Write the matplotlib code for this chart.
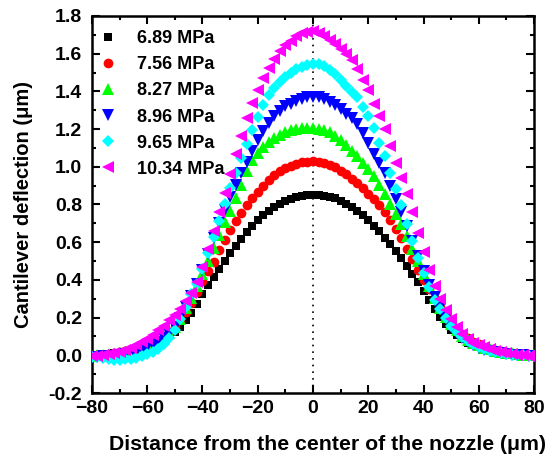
import numpy as np
import matplotlib
matplotlib.use("Agg")
import matplotlib.pyplot as plt
from matplotlib.ticker import MultipleLocator

plt.rcParams["font.family"] = ["Liberation Sans", "DejaVu Sans"]
plt.rcParams["font.weight"] = "bold"

# distance from nozzle center (um), one point every 2 um
distance = list(range(-80, 81, 2))

p689 = [0.000, 0.002, 0.004, 0.007, 0.010, 0.014, 0.019, 0.024, 0.030, 0.037,
        0.045, 0.055, 0.067, 0.082, 0.100, 0.122, 0.150, 0.185, 0.225, 0.272,
        0.323, 0.372, 0.418, 0.460, 0.502, 0.542, 0.580, 0.617, 0.652, 0.686,
        0.716, 0.744, 0.768, 0.788, 0.804, 0.818, 0.829, 0.838, 0.844, 0.848,
        0.850,
        0.849, 0.846, 0.840, 0.832, 0.820, 0.805, 0.787, 0.765, 0.742, 0.716,
        0.688, 0.657, 0.624, 0.590, 0.555, 0.517, 0.476, 0.432, 0.387, 0.340,
        0.291, 0.245, 0.203, 0.166, 0.134, 0.106, 0.084, 0.067, 0.054, 0.044,
        0.036, 0.029, 0.023, 0.018, 0.014, 0.010, 0.007, 0.004, 0.002, 0.000]

p756 = [0.000, 0.002, 0.004, 0.007, 0.011, 0.016, 0.021, 0.028, 0.036, 0.045,
        0.055, 0.067, 0.082, 0.100, 0.122, 0.150, 0.185, 0.228, 0.280, 0.335,
        0.392, 0.445, 0.497, 0.557, 0.612, 0.665, 0.712, 0.755, 0.797, 0.833,
        0.868, 0.900, 0.930, 0.955, 0.976, 0.993, 1.006, 1.016, 1.024, 1.028,
        1.030,
        1.028, 1.022, 1.012, 0.998, 0.980, 0.960, 0.937, 0.912, 0.886, 0.858,
        0.828, 0.797, 0.760, 0.716, 0.668, 0.620, 0.565, 0.510, 0.455, 0.400,
        0.350, 0.300, 0.255, 0.212, 0.174, 0.140, 0.112, 0.090, 0.072, 0.058,
        0.046, 0.036, 0.028, 0.021, 0.016, 0.011, 0.008, 0.005, 0.003, 0.001]

p827 = [-0.002, 0.000, 0.002, 0.005, 0.008, 0.012, 0.017, 0.023, 0.030, 0.038,
        0.048, 0.060, 0.075, 0.094, 0.118, 0.150, 0.195, 0.250, 0.305, 0.368,
        0.430, 0.500, 0.570, 0.640, 0.705, 0.765, 0.835, 0.905, 0.980, 1.035,
        1.075, 1.105, 1.132, 1.152, 1.170, 1.183, 1.194, 1.200, 1.204, 1.206,
        1.207,
        1.203, 1.197, 1.185, 1.165, 1.142, 1.115, 1.085, 1.055, 1.022, 0.988,
        0.950, 0.905, 0.855, 0.803, 0.750, 0.695, 0.632, 0.566, 0.498, 0.430,
        0.365, 0.305, 0.252, 0.205, 0.165, 0.132, 0.105, 0.083, 0.066, 0.052,
        0.041, 0.032, 0.025, 0.019, 0.014, 0.010, 0.007, 0.004, 0.002, 0.001]

p896 = [-0.008, -0.007, -0.006, -0.005, -0.003, 0.000, 0.005, 0.012, 0.020, 0.030,
        0.042, 0.055, 0.072, 0.090, 0.115, 0.150, 0.200, 0.255, 0.315, 0.380,
        0.455, 0.540, 0.620, 0.700, 0.770, 0.840, 0.905, 0.965, 1.025, 1.085,
        1.140, 1.190, 1.235, 1.270, 1.298, 1.320, 1.335, 1.350, 1.362, 1.369,
        1.372,
        1.368, 1.360, 1.345, 1.327, 1.305, 1.282, 1.258, 1.228, 1.180, 1.125,
        1.070, 1.020, 0.966, 0.898, 0.830, 0.760, 0.685, 0.605, 0.525, 0.445,
        0.375, 0.310, 0.252, 0.200, 0.155, 0.118, 0.090, 0.068, 0.052, 0.040,
        0.030, 0.022, 0.016, 0.011, 0.007, 0.004, 0.002, 0.000, -0.002, -0.003]

p965 = [-0.007, -0.011, -0.016, -0.020, -0.023, -0.024, -0.022, -0.018, -0.013, -0.005,
        0.006, 0.020, 0.036, 0.058, 0.090, 0.135, 0.190, 0.255, 0.325, 0.380,
        0.460, 0.545, 0.630, 0.715, 0.800, 0.885, 0.965, 1.045, 1.120, 1.195,
        1.265, 1.330, 1.382, 1.420, 1.452, 1.478, 1.500, 1.518, 1.530, 1.540,
        1.545,
        1.543, 1.535, 1.515, 1.490, 1.460, 1.428, 1.398, 1.368, 1.315, 1.268,
        1.205, 1.128, 1.055, 0.965, 0.882, 0.795, 0.695, 0.605, 0.515, 0.435,
        0.362, 0.296, 0.243, 0.196, 0.158, 0.125, 0.098, 0.076, 0.058, 0.044,
        0.033, 0.024, 0.017, 0.011, 0.007, 0.004, 0.001, -0.001, -0.003, -0.005]

p1034 = [-0.006, -0.003, 0.002, 0.006, 0.012, 0.019, 0.028, 0.040, 0.052, 0.068,
         0.087, 0.108, 0.132, 0.155, 0.185, 0.212, 0.248, 0.290, 0.330, 0.390,
         0.470, 0.565, 0.660, 0.760, 0.860, 0.962, 1.068, 1.165, 1.258, 1.340,
         1.410, 1.470, 1.525, 1.572, 1.612, 1.645, 1.670, 1.692, 1.708, 1.717,
         1.718,
         1.712, 1.695, 1.675, 1.652, 1.625, 1.598, 1.568, 1.520, 1.462, 1.405,
         1.335, 1.272, 1.200, 1.108, 1.020, 0.940, 0.858, 0.760, 0.650, 0.550,
         0.455, 0.370, 0.298, 0.238, 0.190, 0.150, 0.115, 0.085, 0.066, 0.052,
         0.042, 0.032, 0.024, 0.017, 0.011, 0.007, 0.004, 0.001, -0.002, -0.005]

labels = ["6.89 MPa", "7.56 MPa", "8.27 MPa", "8.96 MPa", "9.65 MPa", "10.34 MPa"]
series = [p689, p756, p827, p896, p965, p1034]
colors = ["black", "#ff0000", "#00ff00", "#0000ff", "#00ffff", "#ff00ff"]
markers = ["s", "o", "^", "v", "D", "<"]
sizes = [6, 7, 8, 8, 6.5, 8]

fig = plt.figure(figsize=(5.54, 4.61), dpi=100)
ax = fig.add_axes([0.166, 0.1475, 0.798, 0.8178])

ax.axvline(0, color="black", linestyle=(0, (1, 3)), linewidth=1.2, zorder=1)
for y, lab, c, m, s in zip(series, labels, colors, markers, sizes):
    ax.plot(distance, y, linestyle="none", marker=m, color=c, markersize=s,
            markeredgewidth=0, label=lab, zorder=3)

ax.set_xlim(-80, 80)
ax.set_ylim(-0.2, 1.8)
ax.xaxis.set_major_locator(MultipleLocator(20))
ax.xaxis.set_minor_locator(MultipleLocator(10))
ax.yaxis.set_major_locator(MultipleLocator(0.2))
ax.yaxis.set_minor_locator(MultipleLocator(0.1))
ax.yaxis.set_major_formatter(plt.FormatStrFormatter("%.1f"))
ax.tick_params(which="both", direction="in", top=True, right=True, width=1.5,
               labelsize=14, pad=5)
ax.tick_params(axis="y", pad=7)
ax.tick_params(which="major", length=6)
ax.tick_params(which="minor", length=3)
for sp in ax.spines.values():
    sp.set_linewidth(1.8)

ax.set_ylabel("Cantilever deflection (\u03bcm)", fontsize=14.5,
              fontweight="bold", labelpad=11)
fig.text(0.592, 0.035, "Distance from the center of the nozzle (\u03bcm)",
         fontsize=15.3, fontweight="bold", ha="center", va="center")

ax.legend(loc="upper left", bbox_to_anchor=(-0.02, 1.0), frameon=False,
          handlelength=1.2, handletextpad=1.0, labelspacing=0.5,
          borderaxespad=0.4, prop={"weight": "bold", "size": 13})

fig.savefig("out.png", dpi=100)
